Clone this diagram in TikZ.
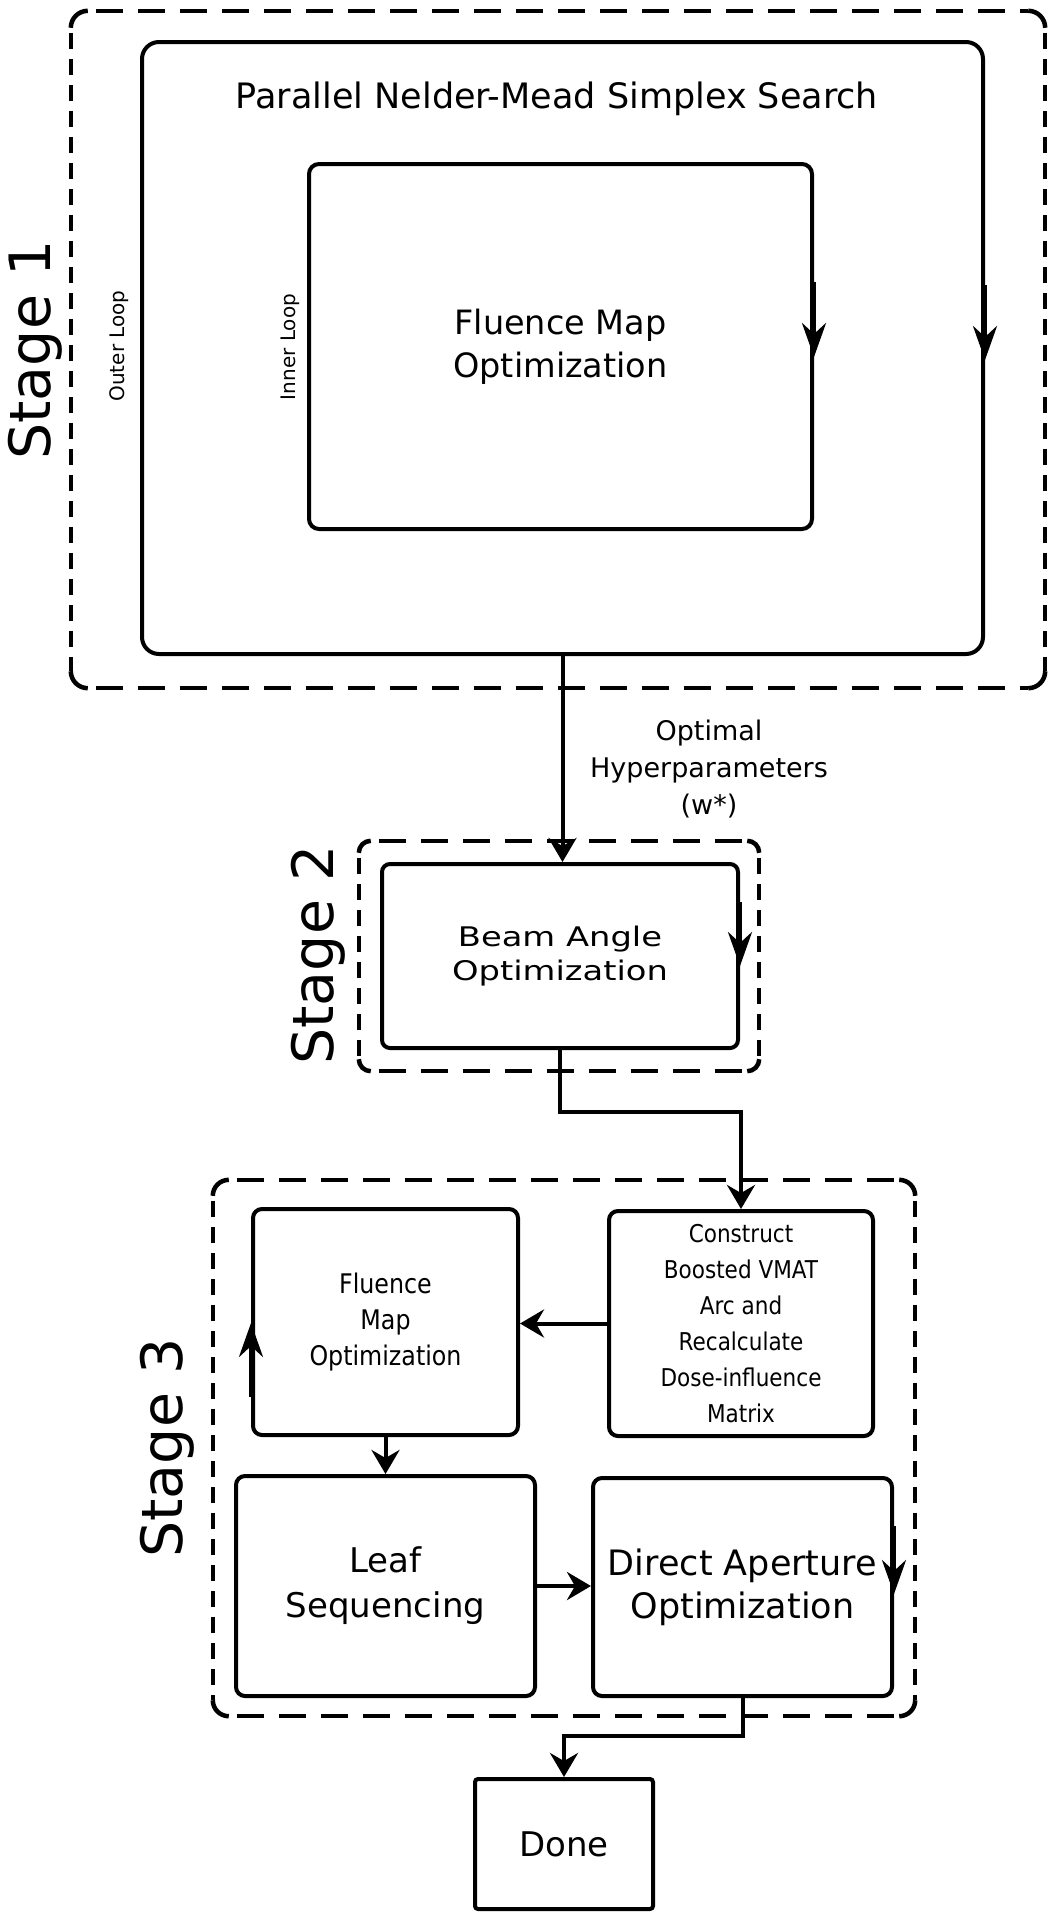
\documentclass[tikz,border=0pt]{standalone}
\usepackage{fontspec}
\setmainfont{DejaVu Sans}
\newfontfamily\condfont[FakeStretch=0.88]{DejaVu Sans}
\newfontfamily\widefont[FakeStretch=1.25]{DejaVu Sans}
\usetikzlibrary{arrows.meta,calc}
\newcommand\fs[2]{\fontsize{#1}{#2}\selectfont}
\newcommand\stagebox[2]{%
  \draw[hdash] ([xshift=#2]#1.north west) -- ([xshift=-#2]#1.north east);
  \draw[hdash] ([xshift=#2]#1.south west) -- ([xshift=-#2]#1.south east);
  \draw[vdash] ([yshift=-#2]#1.north west) -- ([yshift=#2]#1.south west);
  \draw[vdash] ([yshift=-#2]#1.north east) -- ([yshift=#2]#1.south east);
  \draw[corner, rounded corners=#2] ([yshift=-#2]#1.north west) -- (#1.north west) -- ([xshift=#2]#1.north west);
  \draw[corner, rounded corners=#2] ([yshift=-#2]#1.north east) -- (#1.north east) -- ([xshift=-#2]#1.north east);
  \draw[corner, rounded corners=#2] ([yshift=#2]#1.south west) -- (#1.south west) -- ([xshift=#2]#1.south west);
  \draw[corner, rounded corners=#2] ([yshift=#2]#1.south east) -- (#1.south east) -- ([xshift=-#2]#1.south east);
}
\tikzset{
  box/.style={draw, line width=4pt, rounded corners=9pt, inner sep=0pt, align=center},
  region/.style={inner sep=0pt, draw=none},
  conn/.style={line width=4pt, -{Stealth[length=24pt 0,width=28pt 0,inset=8pt 0]}},
  looparrow/.style={line width=4pt, -{Stealth[length=34pt 0,width=24pt 0,inset=11pt 0]}},
  hdash/.style={line width=4.5pt, dash pattern=on 27pt off 15pt, dash phase=34pt},
  vdash/.style={line width=4.5pt, dash pattern=on 16pt off 10pt, dash phase=21pt},
  corner/.style={line width=4.5pt},
  stagelabel/.style={rotate=90, font=\fs{57}{60}},
  looplabel/.style={rotate=90, font=\fs{20}{24}},
}
\begin{document}
\begin{tikzpicture}[x=1pt, y=-1pt]
\useasboundingbox (0,0) rectangle (1058,1920);

% ---------- Stage 1 ----------
\node[region, minimum width=974pt, minimum height=677pt] (s1) at (558,349.5) {};
\stagebox{s1}{17pt}
\node[stagelabel] (st1) at (35,350) {Stage 1};

\node[box, rounded corners=17pt, minimum width=841pt, minimum height=612pt] (pnm) at (562.5,348) {};
\node[anchor=base, font=\fs{35}{42}] (pnmtitle) at (557,108) {Parallel Nelder-Mead Simplex Search};
\node[box, rounded corners=10pt, minimum width=503pt, minimum height=365pt, font=\fs{33.5}{43}] (fmo1) at (560.5,346.5) {Fluence Map\\Optimization};
\node[looplabel] (outer) at (119.5,346) {Outer Loop};
\node[looplabel] (inner) at (290,347) {Inner Loop};

\draw[looparrow] ($(fmo1.north east)+(0,120)$) -- ($(fmo1.north east)+(0,195)$);
\draw[looparrow] ($(pnm.north east)+(0,245)$) -- ($(pnm.north east)+(0,320)$);

% ---------- Stage 2 ----------
\node[region, minimum width=400pt, minimum height=230pt] (s2) at (559,956) {};
\stagebox{s2}{12pt}
\node[stagelabel] (st2) at (318.5,955) {Stage 2};
\node[box, rounded corners=8pt, minimum width=356pt, minimum height=184pt, font=\widefont\fs{27}{34}] (beam) at (560,956) {Beam Angle\\Optimization};
\draw[looparrow] ($(beam.north east)+(0,40)$) -- ($(beam.north east)+(0,104)$);

\node[align=center, font=\fs{27}{37}] (hyp) at (709,769) {Optimal\\Hyperparameters\\(w*)};

\draw[conn] (pnm.south) -- (pnm.south |- beam.north);

% ---------- Stage 3 ----------
\node[region, minimum width=702pt, minimum height=536pt] (s3) at (564,1448) {};
\stagebox{s3}{16pt}
\node[stagelabel] (st3) at (167.5,1448) {Stage 3};

\node[box, minimum width=265pt, minimum height=226pt, font=\condfont\fs{27}{36}] (fmo3) at (385.5,1322) {Fluence\\Map\\Optimization};
\node[box, minimum width=264pt, minimum height=225pt, font=\condfont\fs{24.5}{36}] (construct) at (741,1323.5) {Construct\\Boosted VMAT\\Arc and\\Recalculate\\Dose-influence\\Matrix};
\node[box, minimum width=299pt, minimum height=220pt, font=\fs{34}{45}] (leaf) at (385.5,1586) {Leaf\\Sequencing};
\node[box, minimum width=299pt, minimum height=218pt, font=\fs{35}{43}] (dao) at (742.5,1587) {Direct Aperture\\Optimization};
\node[box, rounded corners=3pt, minimum width=178pt, minimum height=130pt, font=\fs{34}{40}] (done) at (564,1844) {Done};

\draw[looparrow] ($(fmo3.south west)+(0,-40)$) -- ($(fmo3.south west)+(0,-114)$);
\draw[looparrow] ($(dao.north east)+(0,50)$) -- ($(dao.north east)+(0,118)$);

\draw[conn] (beam.south) -- ++(0,62) -| (construct.north);
\draw[conn] (construct.west) -- (construct.west -| fmo3.east);
\draw[conn] (fmo3.south) -- (leaf.north);
\draw[conn] (leaf.east) -- (leaf.east -| dao.west);
\draw[conn] (dao.south) -- ++(0,38) -| (done.north);
\end{tikzpicture}
\end{document}
